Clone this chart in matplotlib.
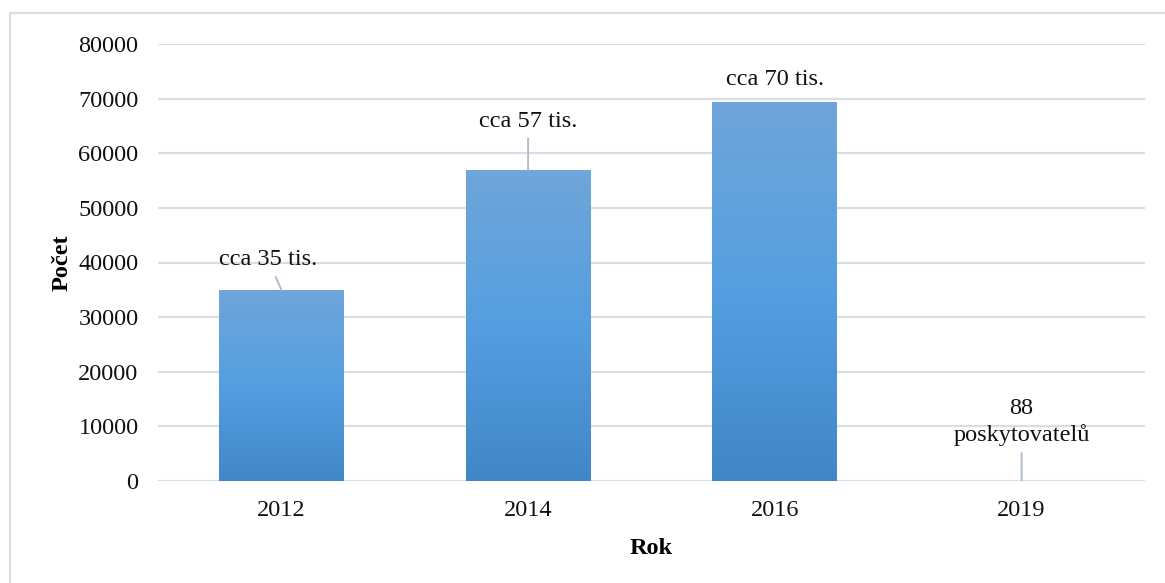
import matplotlib
matplotlib.use("Agg")
import matplotlib.pyplot as plt
import numpy as np
from matplotlib.colors import LinearSegmentedColormap
from matplotlib.patches import Rectangle

categories = ["2012", "2014", "2016", "2019"]
values = [35000, 57000, 69300, 88]
labels = ["cca 35 tis.", "cca 57 tis.", "cca 70 tis.", "88\nposkytovatelů"]
yticks = [0, 10000, 20000, 30000, 40000, 50000, 60000, 70000, 80000]

plt.rcParams['font.family'] = ['Liberation Serif', 'DejaVu Serif']

W, H = 1165, 583
FS = 17.5
fig = plt.figure(figsize=(W / 100, H / 100), dpi=100)
ax = fig.add_axes([158 / W, 1 - 481 / H, (1145 - 158) / W, (481 - 44) / H])

grid_c = '#d9dde6'
x = np.arange(len(categories))
bw = 0.506
cmap = LinearSegmentedColormap.from_list('g', ['#4187c8', '#559ee0', '#6fa6da'])
grad = np.linspace(0, 1, 256).reshape(-1, 1)
bars = ax.bar(x, values, width=bw, color='none', zorder=2)
for b in bars:
    bx = b.get_x()
    bwid, bh = b.get_width(), b.get_height()
    im = ax.imshow(grad, cmap=cmap, aspect='auto', origin='lower',
                   extent=[bx, bx + bwid, 0, max(bh, 1)], zorder=2, interpolation='bicubic')
    im.set_clip_path(b)

ax.set_xlim(-0.5, len(categories) - 0.5)
ax.set_ylim(0, 80000)
ax.set_yticks(yticks)
ax.set_yticklabels([str(v) for v in yticks])
ax.set_xticks(x)
ax.set_xticklabels(categories)
ax.tick_params(axis='both', length=0, labelsize=FS, colors='#111111')
ax.tick_params(axis='y', pad=14)
ax.tick_params(axis='x', pad=14)
ax.grid(axis='y', color=grid_c, lw=1.6, zorder=0)
ax.set_axisbelow(True)
for s in ax.spines.values():
    s.set_visible(False)

ax.set_ylabel('Počet', fontsize=17.5, fontweight='bold', labelpad=4)
ax.set_xlabel('Rok', fontsize=17.5, fontweight='bold', labelpad=12)

line_c = '#b0bccd'
# label offsets in points (text position relative to bar top)
offsets = [(-9.5, 21.5), (0, 35), (0, 16.5), (0, 42)]
lines = [True, True, False, True]
for i, (v, lab) in enumerate(zip(values, labels)):
    dx, dy = offsets[i]
    kw = dict(xy=(x[i], v), xytext=(dx, dy), textcoords='offset points',
              ha='center', va='center', fontsize=FS, color='#111111', zorder=5,
              linespacing=1.3)
    if lines[i]:
        kw['arrowprops'] = dict(arrowstyle='-', color=line_c, lw=1.4,
                                shrinkA=3, shrinkB=0)
    ax.annotate(lab, **kw)

fig.patches.append(Rectangle((10 / W, -0.01), 1.02, 1 - 13 / H + 0.01, transform=fig.transFigure,
                             fill=False, edgecolor='#d9dde6', lw=1.5))

fig.savefig('out.png', dpi=100)
